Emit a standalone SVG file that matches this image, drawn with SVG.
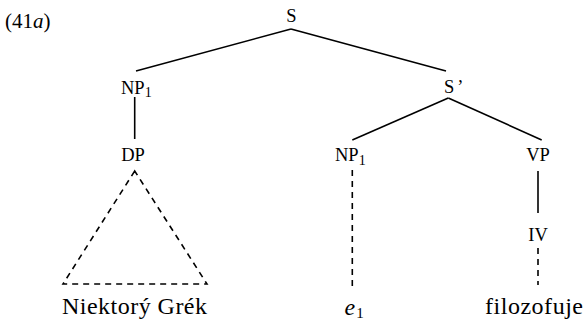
<svg xmlns="http://www.w3.org/2000/svg" width="586" height="320" viewBox="0 0 586 320">
  <style>
    .edge { stroke: #000; stroke-width: 1.6; fill: none; }
    .dash { stroke-dasharray: 6 5; }
  </style>
  <rect width="586" height="320" fill="#fff"/>

  <g font-family="'Liberation Serif', 'Times New Roman', serif" fill="#000">
    <!-- example number -->
    <g id="example-label">
      <text font-size="21" x="5" y="28">(41<tspan font-style="italic">a</tspan>)</text>
    </g>

    <!-- connectors -->
    <g id="connectors">
      <line class="edge" x1="291" y1="29" x2="136" y2="71"/>
      <line class="edge" x1="291" y1="29" x2="446" y2="71"/>
      <line class="edge" x1="134.7" y1="97" x2="134.7" y2="139"/>
      <polygon class="edge dash" points="134.7,171 63,284 207,284"/>
      <line class="edge" x1="448.3" y1="98" x2="352.3" y2="140"/>
      <line class="edge" x1="448.3" y1="98" x2="541.7" y2="140"/>
      <line class="edge dash" x1="352.3" y1="170" x2="352.3" y2="290"/>
      <line class="edge" x1="538" y1="171" x2="538" y2="213"/>
      <line class="edge dash" x1="538" y1="248" x2="538" y2="285"/>
    </g>

    <g id="node-S">
      <text font-size="18.5" x="291.5" y="22" text-anchor="middle">S</text>
    </g>
    <g id="node-NP1-left">
      <text font-size="18.5" x="121" y="93.5">NP<tspan font-size="14" dy="3.5">1</tspan></text>
    </g>
    <g id="node-DP">
      <text font-size="18.5" x="133" y="161" text-anchor="middle">DP</text>
    </g>
    <g id="leaf-niektory-grek">
      <text font-size="24" x="62" y="314" textLength="145" lengthAdjust="spacing">Niektorý Grék</text>
    </g>
    <g id="node-S-prime">
      <text font-size="18.5" x="444" y="93">S<tspan dx="3">’</tspan></text>
    </g>
    <g id="node-NP1-right">
      <text font-size="18.5" x="335" y="161">NP<tspan font-size="14" dy="3.5">1</tspan></text>
    </g>
    <g id="leaf-e1">
      <text font-size="24" x="344.5" y="315"><tspan font-style="italic">e</tspan><tspan font-size="15" dy="3" dx="1">1</tspan></text>
    </g>
    <g id="node-VP">
      <text font-size="18.5" x="538" y="161" text-anchor="middle">VP</text>
    </g>
    <g id="node-IV">
      <text font-size="18.5" x="538" y="241" text-anchor="middle">IV</text>
    </g>
    <g id="leaf-filozofuje">
      <text font-size="24" x="485" y="314" textLength="98" lengthAdjust="spacing">filozofuje</text>
    </g>
  </g>
</svg>
